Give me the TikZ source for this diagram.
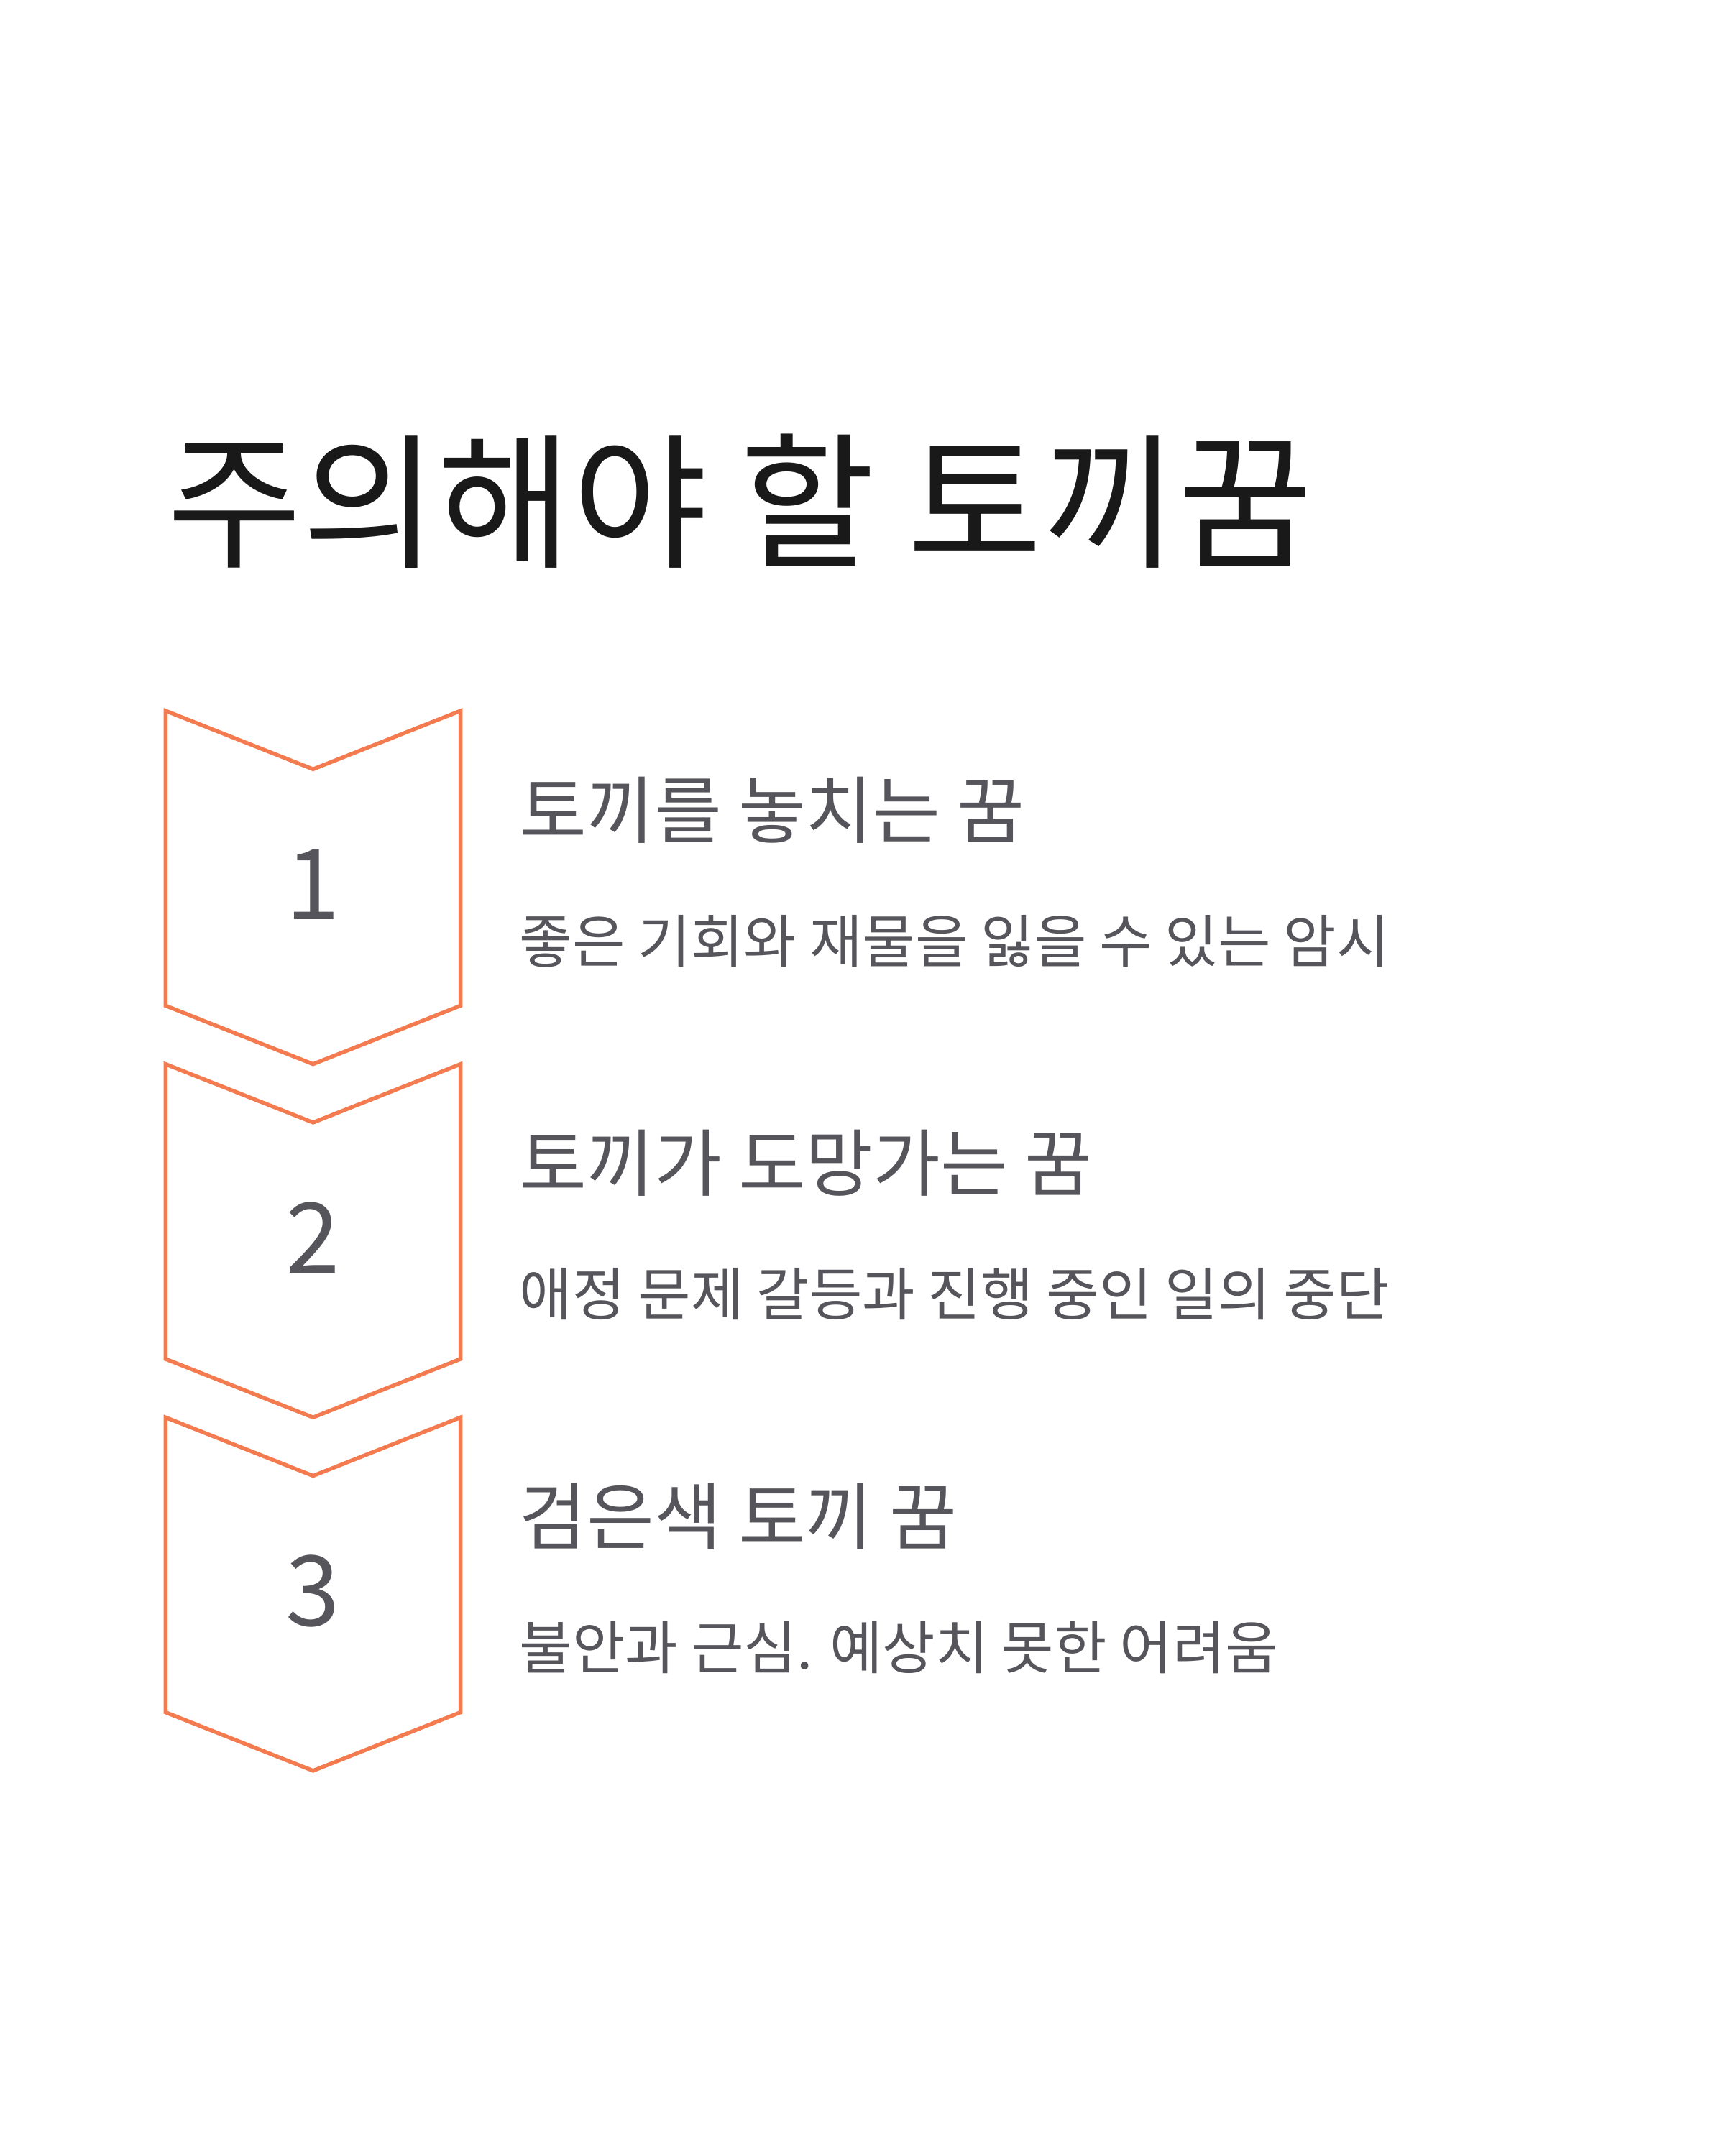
\documentclass[tikz,border=0pt]{standalone}
\usepackage{fontspec}
\setmainfont{Noto Sans CJK KR}
\definecolor{org}{HTML}{F47B4F}
\definecolor{gry}{HTML}{55555B}
\begin{document}
\begin{tikzpicture}[x=0.02cm,y=-0.02cm,
 chev/.style={draw=org,line width=1.6pt,line join=miter},
 num/.style={text=gry,font=\fontsize{40}{40}\selectfont},
 head/.style={anchor=base west,text=gry,inner sep=0,font=\fontsize{30}{30}\selectfont},
 sub/.style={anchor=base west,text=gry,inner sep=0,font=\fontsize{23.5}{23.5}\selectfont}]
\useasboundingbox (0,0) rectangle (1240,1550);
\node[anchor=base west,inner sep=0,text=black!90,font=\fontsize{60}{60}\selectfont] (title) at (120,400) {주의해야 할 토끼꿈};
\foreach \i/\n/\h/\s in {0/1/토끼를 놓치는 꿈/좋은 기회와 재물을 잃을 수 있는 암시,
 1/2/토끼가 도망가는 꿈/애정 문제 갈등과 진행 중인 일의 중단,
 2/3/검은색 토끼 꿈/불안과 근심. 예상치 못한 어려움}{
 \pgfmathsetmacro{\o}{254*\i}
 \draw[chev] (119,511+\o) -- (225,553+\o) -- (331,511+\o) -- (331,723+\o) -- (225,765+\o) -- (119,723+\o) -- cycle;
 \node[num] (n\n) at (225,636+\o) {\n};
 \node[head] (h\n) at (373,602+\o) {\h};
 \node[sub] (s\n) at (373,692+\o) {\s};
}
\end{tikzpicture}
\end{document}
